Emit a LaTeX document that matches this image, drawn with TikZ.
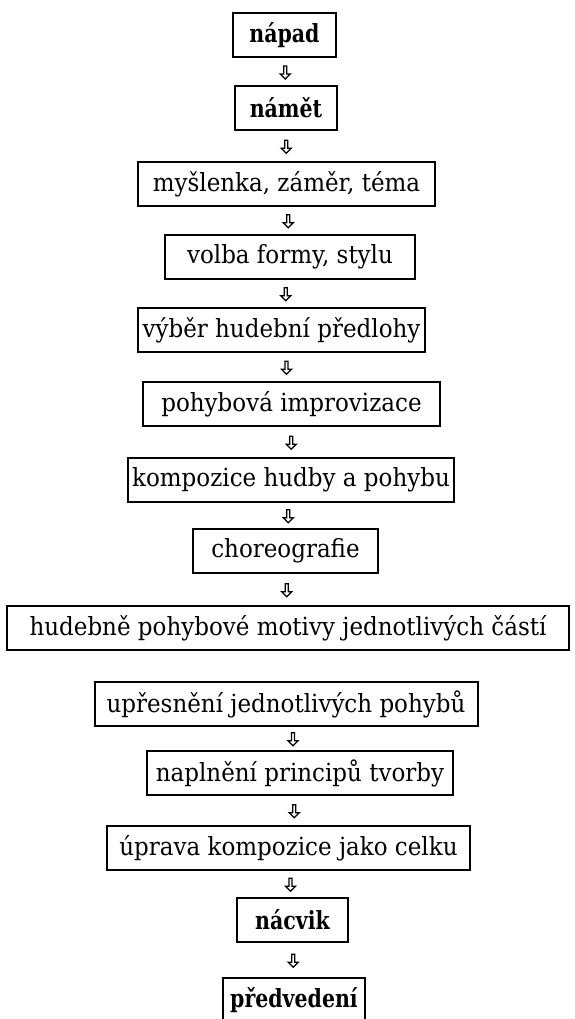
\documentclass[tikz,border=0pt]{standalone}
\usepackage{fontspec}
\setmainfont{DejaVu Serif}[FakeStretch=0.92]
\newfontfamily\tucne{DejaVu Serif}[FakeStretch=0.82]
\usetikzlibrary{shapes.arrows}

\tikzset{
  krok/.style={draw,line width=2pt,inner xsep=4pt,inner ysep=0pt,
               minimum height=44pt,font=\fontsize{25}{28}\selectfont},
  hlavni/.style={krok,inner xsep=6pt,font=\fontsize{25}{28}\selectfont\tucne\bfseries},
  sipka/.style={single arrow,draw,line width=1.3pt,shape border rotate=270,
                minimum height=13pt,minimum width=10pt,
                single arrow head extend=1.5pt,inner sep=0pt}
}

\begin{document}
\begin{tikzpicture}[x=1pt,y=1pt]
  \useasboundingbox (0,0) rectangle (574,-1019);

  % kroky tvorby
  \node[hlavni,minimum width=103pt] (napad)        at (284.5,-35.5) {nápad};
  \node[hlavni,minimum width=102pt] (namet)        at (286,-108)    {námět};
  \node[krok,minimum width=297pt]   (myslenka)     at (286.5,-184)  {myšlenka, záměr, téma};
  \node[krok,minimum width=250pt]   (volba)        at (290,-257)    {volba formy, stylu};
  \node[krok,minimum width=287pt]   (vyber)        at (281.5,-330)  {výběr hudební předlohy};
  \node[krok,minimum width=297pt]   (improvizace)  at (291.5,-404)  {pohybová improvizace};
  \node[krok,minimum width=322pt]   (kompozice)    at (291,-480)    {kompozice hudby a pohybu};
  \node[krok,minimum width=185pt]   (choreografie) at (285.5,-551)  {choreografie};
  \node[krok,minimum width=562pt]   (motivy)       at (288,-628)    {hudebně pohybové motivy jednotlivých částí};

  % druha cast
  \node[krok,minimum width=383pt]   (upresneni)    at (286,-704)    {upřesnění jednotlivých pohybů};
  \node[krok,minimum width=306pt]   (naplneni)     at (300,-773)    {naplnění principů tvorby};
  \node[krok,minimum width=363pt]   (uprava)       at (288.5,-848)  {úprava kompozice jako celku};
  \node[hlavni,minimum width=111pt] (nacvik)       at (292.5,-920)  {nácvik};
  \node[hlavni,minimum width=142pt] (predvedeni)   at (294,-1000)   {předvedení};

  % sipky
  \foreach \a/\b in {napad/namet, namet/myslenka, myslenka/volba, volba/vyber,
                     vyber/improvizace, improvizace/kompozice,
                     kompozice/choreografie, choreografie/motivy,
                     upresneni/naplneni, naplneni/uprava, uprava/nacvik,
                     nacvik/predvedeni}
    \path (\a) -- node[sipka]{} (\b);

\end{tikzpicture}
\end{document}
